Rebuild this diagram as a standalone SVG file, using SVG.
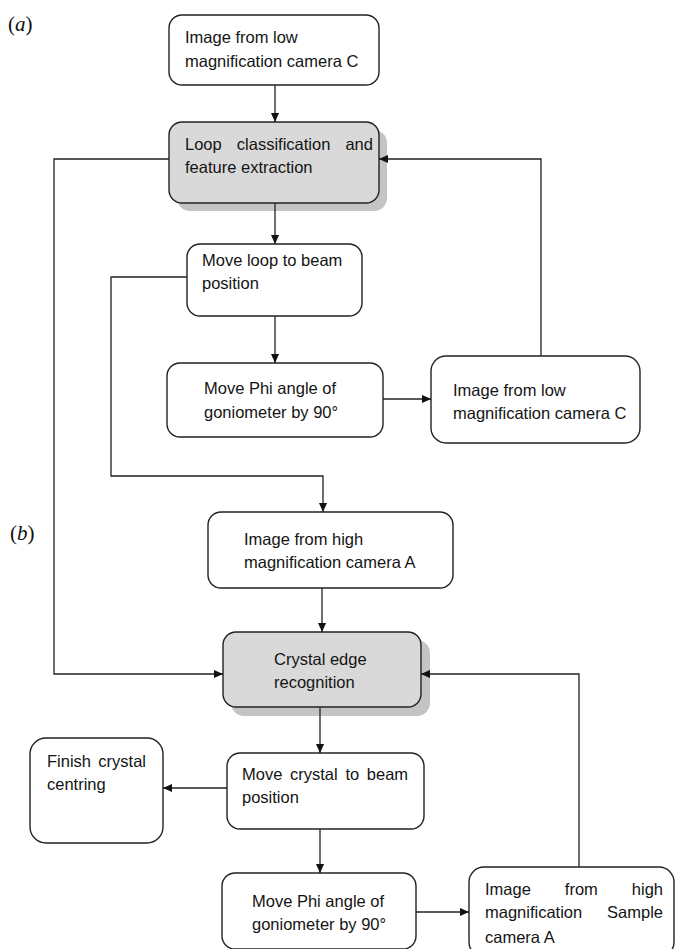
<svg xmlns="http://www.w3.org/2000/svg" width="675" height="949" viewBox="0 0 675 949">
<defs>
<marker id="ah" viewBox="0 0 10 10" refX="10" refY="5" markerWidth="9" markerHeight="9" markerUnits="userSpaceOnUse" orient="auto">
<path d="M0,0.5 L10,5 L0,9.5 z" fill="#111"/>
</marker>
<style>
.box{fill:#fff;stroke:#222;stroke-width:1.4}
.gray{fill:#d9d9d9;stroke:#222;stroke-width:1.4}
.shadow{fill:#c4c4c4;stroke:none}
.t{font-family:"Liberation Sans",Arial,sans-serif;font-size:16.5px;fill:#141414}
.lbl{font-family:"Liberation Serif","Times New Roman",serif;font-size:21px;fill:#111}
.ca{fill:none;stroke:#222;stroke-width:1.3;marker-end:url(#ah)}
</style>
</defs>
<rect width="675" height="949" fill="#fff"/>

<text class="lbl" x="8" y="31">(<tspan font-style="italic">a</tspan>)</text>
<text class="lbl" x="10" y="540">(<tspan font-style="italic">b</tspan>)</text>

<g id="n1">
<rect class="box" x="169" y="15" width="210" height="70" rx="13"/>
<text class="t" x="185" y="43">Image from low</text>
<text class="t" x="185" y="67">magnification camera C</text>
</g>

<g id="n2">
<rect class="shadow" x="177" y="130" width="210" height="81" rx="13"/>
<rect class="gray" x="169" y="122" width="210" height="81" rx="13"/>
<text class="t" x="185" y="150" word-spacing="10.5">Loop classification and</text>
<text class="t" x="185" y="173">feature extraction</text>
</g>

<g id="n3">
<rect class="box" x="187" y="244" width="175" height="72" rx="13"/>
<text class="t" x="202" y="266">Move loop to beam</text>
<text class="t" x="202" y="289">position</text>
</g>

<g id="n4">
<rect class="box" x="167" y="363" width="216" height="74" rx="13"/>
<text class="t" x="204" y="394">Move Phi angle of</text>
<text class="t" x="204" y="418">goniometer by 90°</text>
</g>

<g id="n5">
<rect class="box" x="431" y="356" width="209" height="87" rx="15"/>
<text class="t" x="453" y="396">Image from low</text>
<text class="t" x="453" y="419">magnification camera C</text>
</g>

<g id="n6">
<rect class="box" x="208" y="512" width="245" height="76" rx="13"/>
<text class="t" x="244" y="545">Image from high</text>
<text class="t" x="244" y="568">magnification camera A</text>
</g>

<g id="n7">
<rect class="shadow" x="231" y="640" width="199" height="76" rx="13"/>
<rect class="gray" x="223" y="632" width="198" height="75" rx="13"/>
<text class="t" x="274" y="665">Crystal edge</text>
<text class="t" x="274" y="688">recognition</text>
</g>

<g id="n8">
<rect class="box" x="227" y="753" width="197" height="76" rx="13"/>
<text class="t" x="242" y="780" word-spacing="3.1">Move crystal to beam</text>
<text class="t" x="242" y="803">position</text>
</g>

<g id="n9">
<rect class="box" x="30" y="738" width="133" height="105" rx="16"/>
<text class="t" x="47" y="767" word-spacing="2.7">Finish crystal</text>
<text class="t" x="47" y="790">centring</text>
</g>

<g id="n10">
<rect class="box" x="222" y="873" width="194" height="76" rx="13"/>
<text class="t" x="252" y="907">Move Phi angle of</text>
<text class="t" x="252" y="930">goniometer by 90°</text>
</g>

<g id="n11">
<rect class="box" x="469" y="867" width="205" height="90" rx="15"/>
<text class="t" x="485" y="895" word-spacing="29.4">Image from high</text>
<text class="t" x="485" y="918" word-spacing="20.3">magnification Sample</text>
<text class="t" x="485" y="943">camera A</text>
</g>

<g id="connectors">
<line class="ca" x1="275" y1="85" x2="275" y2="122"/>
<polyline class="ca" points="169,159 54,159 54,674 223,674"/>
<line class="ca" x1="275" y1="203" x2="275" y2="244"/>
<line class="ca" x1="275" y1="316" x2="275" y2="363"/>
<line class="ca" x1="383" y1="399" x2="431" y2="399"/>
<polyline class="ca" points="541,356 541,159 379,159"/>
<polyline class="ca" points="187,277 111,277 111,476 323,476 323,512"/>
<line class="ca" x1="322" y1="588" x2="322" y2="632"/>
<line class="ca" x1="320" y1="707" x2="320" y2="753"/>
<line class="ca" x1="227" y1="788" x2="163" y2="788"/>
<line class="ca" x1="320" y1="829" x2="320" y2="873"/>
<line class="ca" x1="416" y1="912" x2="469" y2="912"/>
<polyline class="ca" points="579,867 579,674 421,674"/>
</g>
</svg>
